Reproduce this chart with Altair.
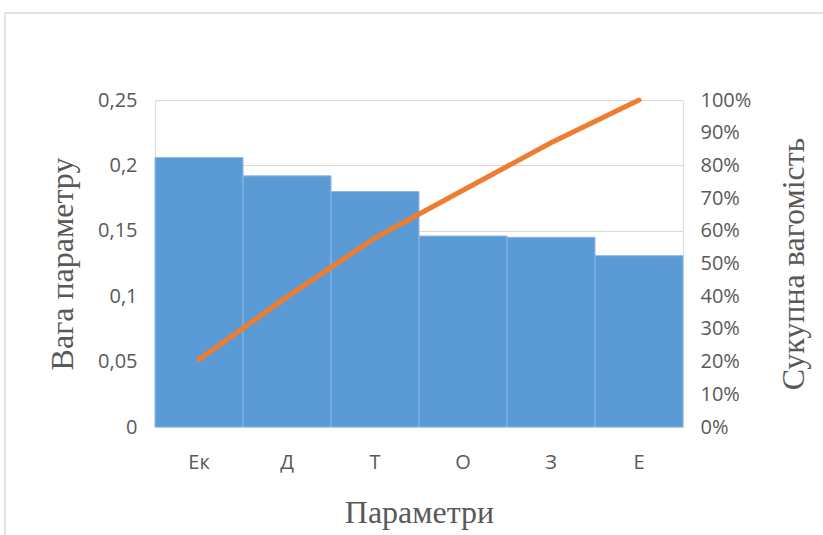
import altair as alt
import pandas as pd

categories = ["Ек", "Д", "Т", "О", "З", "Е"]
weights = [0.206, 0.192, 0.180, 0.146, 0.145, 0.131]
cumulative = [0.206, 0.398, 0.578, 0.724, 0.869, 1.0]

df = pd.DataFrame({"cat": categories, "w": weights, "cum": cumulative})

W, H = 528, 327
PL, PT = 155, 100
PR, PB = 823 - PL - W, 535 - PT - H

tick_font = "Open Sans"
title_font = "Liberation Serif"
grey = "#595959"

x = alt.X("cat:N", sort=categories, scale=alt.Scale(paddingInner=0, paddingOuter=0),
          axis=alt.Axis(title="Параметри", labelAngle=0, labelFont=tick_font, labelFontSize=20,
                        labelColor=grey, labelPadding=25, ticks=False, domain=True,
                        domainColor="#d9d9d9", titleFont=title_font, titleFontSize=32,
                        titleFontWeight="normal", titleColor=grey, titleX=W / 2, titleY=85,
                        titleBaseline="middle", titleAlign="center"))

bars = alt.Chart(df).mark_bar(color="#5b9bd5", stroke="#8db8e3", strokeWidth=1).encode(
    x=x,
    y=alt.Y("w:Q", scale=alt.Scale(domain=[0, 0.25], nice=False),
            axis=alt.Axis(title="Вага параметру", values=[0, 0.05, 0.1, 0.15, 0.2, 0.25],
                          format="~g", labelExpr="replace(datum.label, '.', ',')",
                          labelFont=tick_font, labelFontSize=20, labelColor=grey,
                          labelPadding=18, ticks=False, domain=False, grid=True,
                          gridColor="#d9d9d9", titleFont=title_font, titleFontSize=32,
                          titleFontWeight="normal", titleColor=grey, titleX=-93, titleY=H / 2,
                          titleAngle=270, titleBaseline="middle", titleAlign="center")),
)

line = alt.Chart(df).mark_line(color="#ed7d31", strokeWidth=5, strokeCap="round").encode(
    x=alt.X("cat:N", sort=categories),
    y=alt.Y("cum:Q", scale=alt.Scale(domain=[0, 1], nice=False),
            axis=alt.Axis(title="Сукупна вагомість", orient="right",
                          values=[i / 10 for i in range(11)], format=".0%",
                          labelFont=tick_font, labelFontSize=20, labelColor=grey,
                          labelPadding=17, ticks=False, domain=False, grid=False,
                          titleFont=title_font, titleFontSize=32, titleFontWeight="normal",
                          titleColor=grey, titleX=110, titleY=H / 2, titleAngle=270,
                          titleBaseline="middle", titleAlign="center")),
)

border = alt.Chart(pd.DataFrame({"a": [0]})).mark_rect(
    fill=None, stroke="#d9d9d9", strokeWidth=1.5, clip=False
).encode(
    x=alt.value(5 - PL), x2=alt.value(823 - PL + 10),
    y=alt.value(13 - PT), y2=alt.value(535 - PT + 10),
)

chart = alt.layer(border, bars, line).resolve_scale(y="independent").properties(
    width=W, height=H, autosize="none",
    padding={"left": PL, "top": PT, "right": PR, "bottom": PB},
).configure_view(stroke="#d9d9d9", strokeWidth=1).configure(background="white")

chart.save("out.html", embed_options={"renderer": "svg", "actions": False})
